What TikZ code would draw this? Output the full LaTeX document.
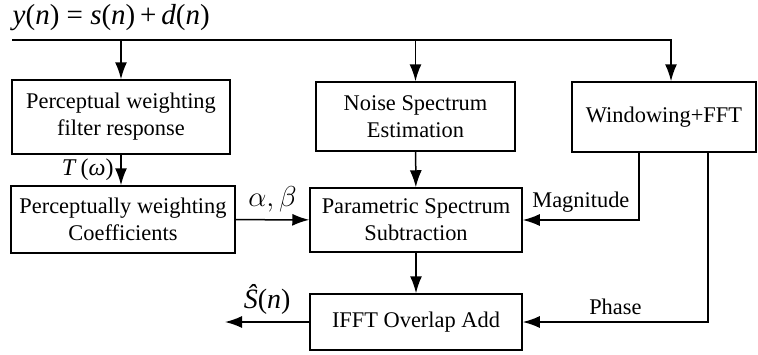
\documentclass[tikz,border=0pt]{standalone}
\usepackage{fontspec}
\setmainfont{Liberation Serif}
\usetikzlibrary{arrows.meta}
\tikzset{> = {Latex[length=8.5pt,width=6pt]}}

\begin{document}
\begin{tikzpicture}[x=0.5pt,y=-0.5pt,line width=0.75pt,
	blk/.style={draw,align=center,inner sep=0pt,font=\fontsize{11.2}{13.5}\selectfont},
	lbl/.style={font=\fontsize{11.2}{13}\selectfont}]
		\useasboundingbox (0,0) rectangle (758,354);
		\node[anchor=base west,inner sep=0pt,font=\fontsize{14.5}{16}\selectfont] (sig) at (12,24) {\textit{y}(\textit{n}) = \textit{s}(\textit{n})\,+\,\textit{d}(\textit{n})};
		\coordinate (l0) at (12,40);
		\coordinate (l1) at (671,40);
		% blocks
		\node[blk,minimum width=109pt,minimum height=37pt] (pwf) at (121,117) {Perceptual weighting\\filter response};
		\node[blk,minimum width=99.5pt,minimum height=34.5pt] (nse) at (415.5,116.5) {Noise Spectrum\\Estimation};
		\node[blk,minimum width=92pt,minimum height=35pt] (fft) at (664,117) {Windowing+FFT};
		\node[blk,minimum width=112pt,minimum height=33.5pt] (pwc) at (123,219.5) {Perceptually weighting\\Coefficients};
		\node[blk,minimum width=106pt,minimum height=32pt] (pss) at (416,220) {Parametric Spectrum\\Subtraction};
		\node[blk,minimum width=106pt,minimum height=28pt] (ola) at (416,322) {IFFT Overlap Add};
		\coordinate (magx) at (639,0);
		\coordinate (phx) at (708,0);
		\coordinate (out) at (225,0);
		% signal line
		\draw[->] (l0) -- (l1) -- (l1 |- fft.north);
		\draw[->] (l0 -| pwf.north) -- (pwf.north);
		\draw[->] (l0 -| nse.north) -- (nse.north);
		\draw[->] (pwf.south) -- (pwf.south |- pwc.north) node[midway,left,font=\fontsize{12}{14}\selectfont]{\textit{T}\,(\textit{ω})};
		\draw[->] (nse) -- (pss);
		\draw[->] (pwc) -- (pss) node[midway,above,font=\fontsize{14}{16}\selectfont]{$\alpha,\beta$};
		\draw[->] (fft.south -| magx) |- (pss.east) node[lbl,pos=0.75,above]{Magnitude};
		\draw[->] (fft.south -| phx) |- (ola.east) node[lbl,pos=0.75,above]{Phase};
		\draw[->] (pss) -- (ola);
		\draw[->] (ola.west) -- (ola.west -| out) node[midway,above,font=\fontsize{14}{16}\selectfont]{\textit{Ŝ}(\textit{n})};
		\end{tikzpicture}
\end{document}
